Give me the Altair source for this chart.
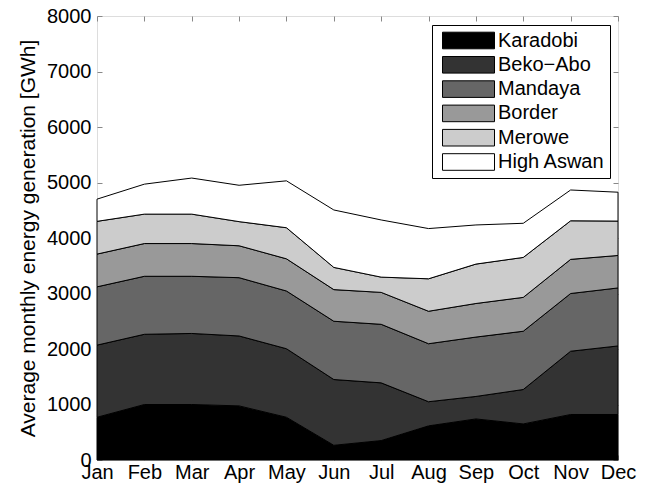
import altair as alt
import pandas as pd

FONT = "Liberation Sans"

months = ["Jan", "Feb", "Mar", "Apr", "May", "Jun", "Jul", "Aug", "Sep", "Oct", "Nov", "Dec"]
series_names = ["Karadobi", "Beko\u2212Abo", "Mandaya", "Border", "Merowe", "High Aswan"]

karadobi = [770, 1000, 1000, 975, 770, 265, 350, 615, 740, 650, 820, 820]
beko_abo = [1300, 1265, 1280, 1260, 1235, 1185, 1040, 435, 405, 620, 1140, 1235]
mandaya = [1050, 1045, 1030, 1050, 1040, 1050, 1055, 1045, 1070, 1050, 1040, 1045]
border = [590, 590, 590, 575, 580, 570, 575, 585, 605, 610, 615, 585]
merowe = [590, 530, 530, 435, 560, 400, 275, 585, 710, 720, 695, 620]
high_aswan = [400, 540, 650, 655, 845, 1035, 1030, 905, 705, 615, 555, 520]

grays = ["#000000", "#333333", "#666666", "#999999", "#cccccc", "#ffffff"]
y_ticks = [0, 1000, 2000, 3000, 4000, 5000, 6000, 7000, 8000]

all_series = [karadobi, beko_abo, mandaya, border, merowe, high_aswan]
rows = []
for k, (name, vals) in enumerate(zip(series_names, all_series)):
    for m, v in zip(months, vals):
        rows.append({"month": m, "series": name, "value": v, "order": k})
df = pd.DataFrame(rows)

x_scale = alt.Scale(type="point", padding=0)
y_scale = alt.Scale(domain=[0, 8000], nice=False)

area = alt.Chart(df).mark_area(stroke="black", strokeWidth=1, interpolate="linear").encode(
    x=alt.X("month:O", sort=months, scale=x_scale,
            axis=alt.Axis(orient="bottom", title=None, labelAngle=0, labelFontSize=20,
                          labelPadding=2, tickSize=5, offset=-5, domain=False, grid=False,
                          labelOverlap=False)),
    y=alt.Y("value:Q", stack="zero", scale=y_scale,
            axis=alt.Axis(orient="left", values=y_ticks, format="d",
                          title="Average monthly energy generation [GWh]",
                          titleFontSize=21, titleFontWeight="normal", labelFontSize=20,
                          labelPadding=6, titlePadding=8, tickSize=5, offset=-5,
                          domain=False, grid=False, labelOverlap=False)),
    color=alt.Color("series:N", scale=alt.Scale(domain=series_names, range=grays),
                    legend=alt.Legend(title=None, orient="none", legendX=335, legendY=9,
                                      symbolType="M-2.6,-0.83L2.6,-0.83L2.6,0.83L-2.6,0.83Z",
                                      symbolSize=400, labelFontSize=20, labelFont=FONT,
                                      labelColor="black", padding=5, rowPadding=3.3,
                                      strokeColor="black", fillColor="white",
                                      symbolStrokeColor="black", symbolStrokeWidth=1,
                                      symbolOffset=21, labelOffset=19, symbolOpacity=1,
                                      labelExpr="datum.label + '\u2002'")),
    order=alt.Order("order:Q"),
)

frame_ticks = alt.Chart(df).mark_point(opacity=0).encode(
    x=alt.X("month:O", sort=months, scale=x_scale,
            axis=alt.Axis(orient="top", title=None, labels=False, tickSize=5, offset=-5,
                          domain=False, grid=False)),
    y=alt.Y("value:Q", scale=y_scale,
            axis=alt.Axis(orient="right", values=y_ticks, title=None, labels=False,
                          tickSize=5, offset=-5, domain=False, grid=False)),
)

chart = alt.layer(area, frame_ticks).resolve_axis(x="independent", y="independent").properties(
    width=521, height=444,
    padding={"left": 89, "top": 8, "right": 20, "bottom": 26},
    autosize=alt.AutoSizeParams(type="none"),
).configure_view(stroke="black", strokeWidth=1).configure_axis(
    labelFont=FONT, titleFont=FONT, labelColor="black", titleColor="black",
    tickColor="black", tickWidth=1, zindex=1
).configure(background="white")

chart.save("out.html", embed_options={"renderer": "svg", "actions": False})
